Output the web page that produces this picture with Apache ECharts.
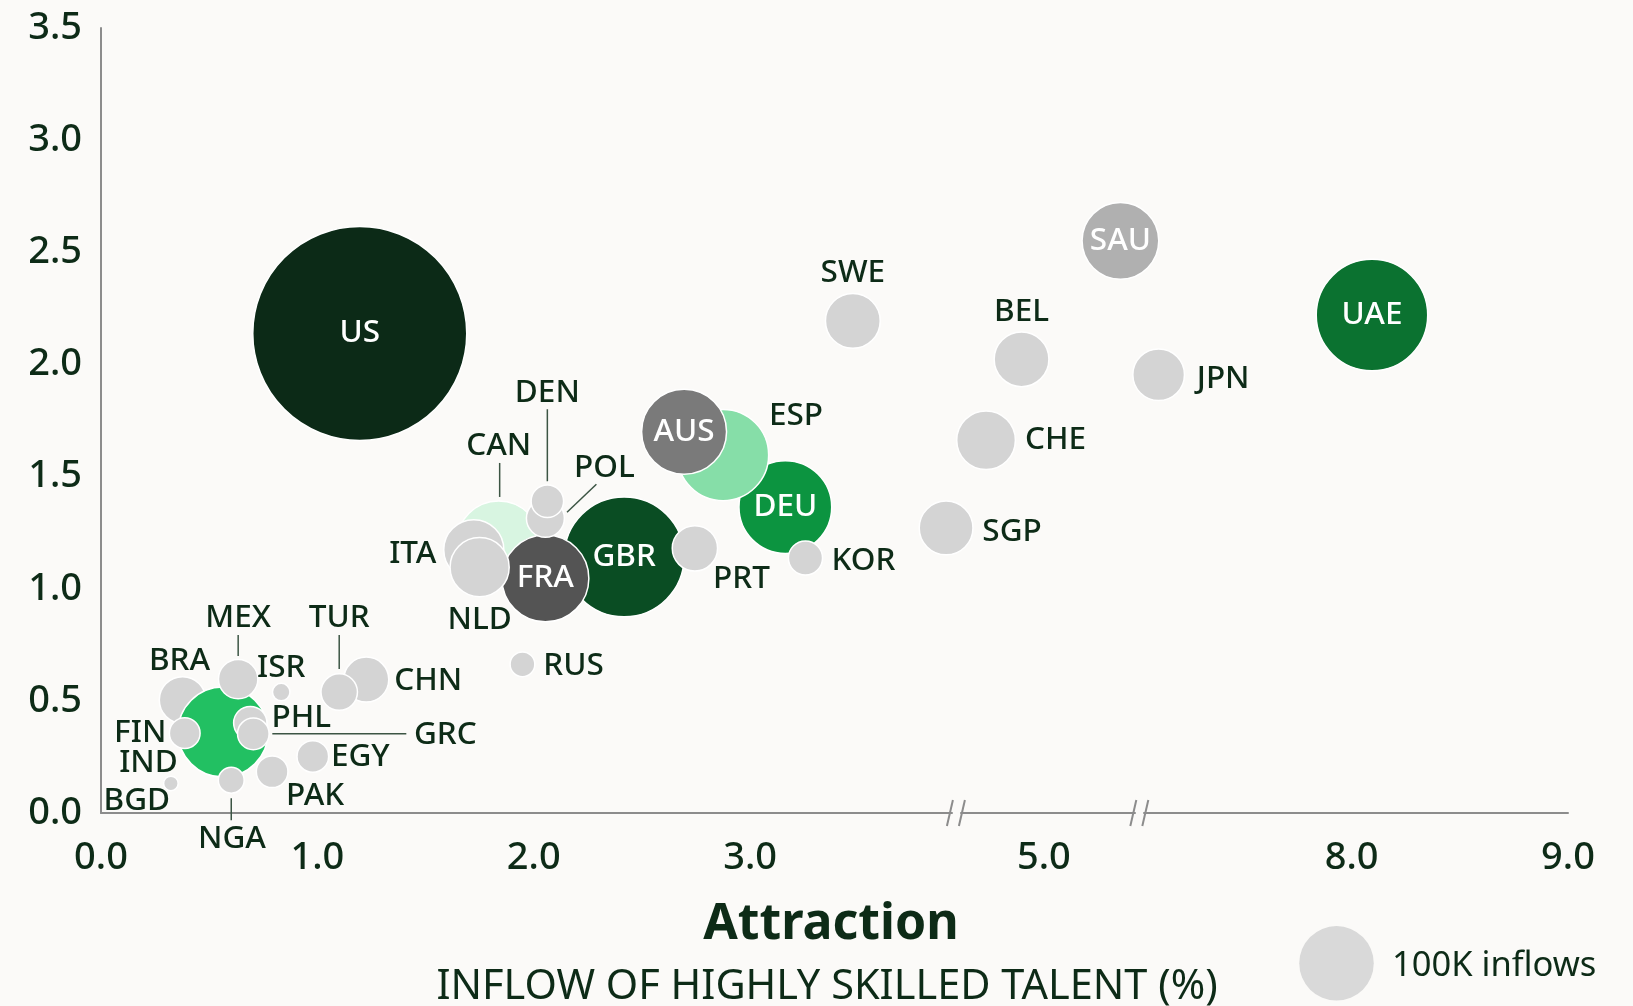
<!DOCTYPE html>
<html><head><meta charset="utf-8">
<script src="https://cdn.jsdelivr.net/npm/echarts@6.0.0/dist/echarts.min.js"></script>
<style>html,body{margin:0;padding:0;background:#fbfaf8;}#c{width:1633px;height:1006px;}</style>
</head><body><div id="c"></div>
<script>
// ---------------- DATA ----------------
const countries = ['US','CAN','ITA','GBR','FRA','NLD','POL','DEN','PRT','DEU','ESP','AUS','KOR','RUS',
  'BRA','IND','MEX','FIN','PHL','GRC','NGA','PAK','EGY','ISR','BGD','CHN','TUR',
  'SWE','SGP','CHE','BEL','SAU','JPN','UAE'];
// x: inflow of highly skilled talent (%)
const inflowPct = [1.196,1.838,1.723,2.418,2.054,1.750,2.054,2.063,2.745,3.163,2.875,2.695,3.256,1.948,
  0.377,0.564,0.634,0.387,0.690,0.704,0.602,0.791,0.979,0.833,0.323,1.226,1.101,
  3.475,3.906,4.733,4.897,5.354,7.108,8.094];
// y values
const yScore = [2.138,1.204,1.174,1.142,1.046,1.096,1.314,1.390,1.180,1.364,1.596,1.700,1.137,0.663,
  0.504,0.361,0.597,0.356,0.401,0.353,0.146,0.184,0.252,0.539,0.132,0.595,0.539,
  2.194,1.271,1.662,2.023,2.551,1.954,2.220];
// bubble size: inflows (thousands)
const inflowsK = [825,127,65,259,136,63,26,19,37,155,150,130,21,11,
  39,146,28,17,20,18,12,18,18,5.5,3.8,36.5,24,
  54,52,62,54,106,48,224];
const xBreaks = [[3.93, 4.615], [5.42, 7.04]];
const xTickValues = [0, 1, 2, 3, 5, 8, 9];
const legendInflowsK = 100;
const xAxisTitle = 'Attraction';
const xAxisSubtitle = 'INFLOW OF HIGHLY SKILLED TALENT (%)';
const legendLabel = '100K inflows';

// ---------------- STYLE ----------------
const FONT = '"Noto Sans", "Open Sans", sans-serif';
const TXT = '#0d2b17';
const BG = '#fbfaf8';
const AXIS = '#8c8c8c';
const GREY = '#d4d4d4';
const COLORS = {US:'#0c2a17', GBR:'#0a4d23', DEU:'#0c9440', UAE:'#0b7230', ESP:'#86dea8', CAN:'#d8f5e1',
  IND:'#22c062', AUS:'#7a7a7a', FRA:'#545454', SAU:'#b0b0b0'};
const INSIDE = ['US','GBR','FRA','AUS','DEU','SAU','UAE'];
const LABEL_LAYOUT = {
  BRA:[-3,-40], MEX:[0,-62,[0,-44,0,-23]], ISR:[0,-25], CHN:[62,0], TUR:[0,-75,[0,-57,0,-23]],
  PHL:[51,-6], GRC:[192,0,[19,0,153,0]], FIN:[-44.5,-1.5], IND:[-74.5,30], BGD:[-34,17],
  NGA:[0.7,58,[0,18,0,40]], PAK:[43,23], EGY:[47.5,0],
  DEN:[0,-109.5,[0,-92,0,-20]], CAN:[0,-98,[1,-80,1,-46]], POL:[59,-51.6,[51,-34,21.6,-6]],
  ITA:[-61,3], NLD:[0,52], PRT:[46.6,30], ESP:[73,-40], KOR:[58,2], RUS:[51,1],
  SWE:[0,-49], BEL:[0,-48.5], JPN:[64.5,3.5], CHE:[69.4,-1], SGP:[66,2.7]
};
const LBL_SIZE = 31.5;
const R100 = 37.25;
const diam = v => 2 * R100 * Math.sqrt(v / 100);

const bubbleData = countries.map((c, i) => ({
  name: c,
  value: [inflowPct[i], yScore[i], inflowsK[i]],
  symbolSize: diam(inflowsK[i]),
  itemStyle: {color: COLORS[c] || GREY, opacity: 1, borderColor: '#ffffff', borderWidth: 1.5},
  label: INSIDE.includes(c) ? {show: true, position: 'inside', formatter: c, color: '#ffffff',
    fontSize: LBL_SIZE, fontWeight: 500, fontFamily: FONT} : {show: false}
}));

const labelData = [];
countries.forEach((c, i) => { if (LABEL_LAYOUT[c]) labelData.push([inflowPct[i], yScore[i], i]); });

const chart = echarts.init(document.getElementById('c'), null, {renderer: 'canvas'});
chart.setOption({
  backgroundColor: BG,
  animation: false,
  grid: {left: 101, right: 65, top: 28, bottom: 193, containLabel: false, outerBoundsMode: 'none'},
  xAxis: {
    type: 'value', min: 0, max: 9, interval: 1,
    breaks: xBreaks.map(b => ({start: b[0], end: b[1], gap: '0.63%'})),
    breakArea: {show: false},
    axisLine: {show: true, onZero: false, lineStyle: {color: AXIS, width: 2}},
    axisTick: {show: false}, splitLine: {show: false},
    axisLabel: {margin: 26, fontSize: 38, fontWeight: 500, color: TXT, fontFamily: FONT, hideOverlap: false,
      customValues: xTickValues, formatter: v => v.toFixed(1)}
  },
  yAxis: {
    type: 'value', min: 0, max: 3.5, interval: 0.5,
    axisLine: {show: true, onZero: false, lineStyle: {color: AXIS, width: 2}},
    axisTick: {show: false}, splitLine: {show: false},
    axisLabel: {margin: 19, fontSize: 38, fontWeight: 500, color: TXT, fontFamily: FONT, formatter: v => v.toFixed(1)}
  },
  series: [
    {
      type: 'scatter', data: bubbleData, emphasis: {disabled: true}, z: 3, clip: false
    },
    {
      type: 'custom', z: 5, clip: false, silent: true,
      data: labelData, encode: {x: 0, y: 1},
      renderItem: (params, api) => {
        const p = api.coord([api.value(0), api.value(1)]);
        const c = countries[api.value(2)];
        const L = LABEL_LAYOUT[c];
        const children = [{
          type: 'text', x: p[0] + L[0], y: p[1] + L[1] + 1,
          style: {text: c, fill: TXT, font: '500 ' + LBL_SIZE + 'px ' + FONT, textAlign: 'center', textVerticalAlign: 'middle'}
        }];
        if (L[2]) {
          const s = L[2];
          children.push({type: 'line', shape: {x1: p[0] + s[0], y1: p[1] + s[1], x2: p[0] + s[2], y2: p[1] + s[3]},
            style: {stroke: '#3c5544', lineWidth: 1.5}});
        }
        return {type: 'group', children};
      }
    },
    {
      type: 'custom', z: 6, clip: false, silent: true,
      data: xBreaks.map(b => [b[0], 0, b[1]]), encode: {x: 0, y: 1},
      renderItem: (params, api) => {
        const a = api.coord([api.value(0), 0]);
        const b = api.coord([api.value(2), 0]);
        const cx = (a[0] + b[0]) / 2, cy = a[1];
        return {type: 'group', children: [
          {type: 'line', shape: {x1: cx - 9, y1: cy + 13, x2: cx - 3, y2: cy - 13}, style: {stroke: AXIS, lineWidth: 2}},
          {type: 'line', shape: {x1: cx + 3, y1: cy + 13, x2: cx + 9, y2: cy - 13}, style: {stroke: AXIS, lineWidth: 2}}
        ]};
      }
    }
  ],
  graphic: [
    {type: 'text', x: 831, y: 925, style: {text: xAxisTitle, font: 'bold 50px ' + FONT, fill: TXT,
      textAlign: 'center', textVerticalAlign: 'middle'}},
    {type: 'text', x: 827, y: 987, style: {text: xAxisSubtitle, font: '41.5px ' + FONT, fill: TXT,
      textAlign: 'center', textVerticalAlign: 'middle'}},
    {type: 'circle', shape: {cx: 1336.5, cy: 963.3, r: diam(legendInflowsK) / 2}, style: {fill: '#d9d9d9'}},
    {type: 'text', x: 1392, y: 966, style: {text: legendLabel, font: '34.5px ' + FONT, fill: TXT,
      textAlign: 'left', textVerticalAlign: 'middle'}}
  ]
});
</script>
</body></html>
